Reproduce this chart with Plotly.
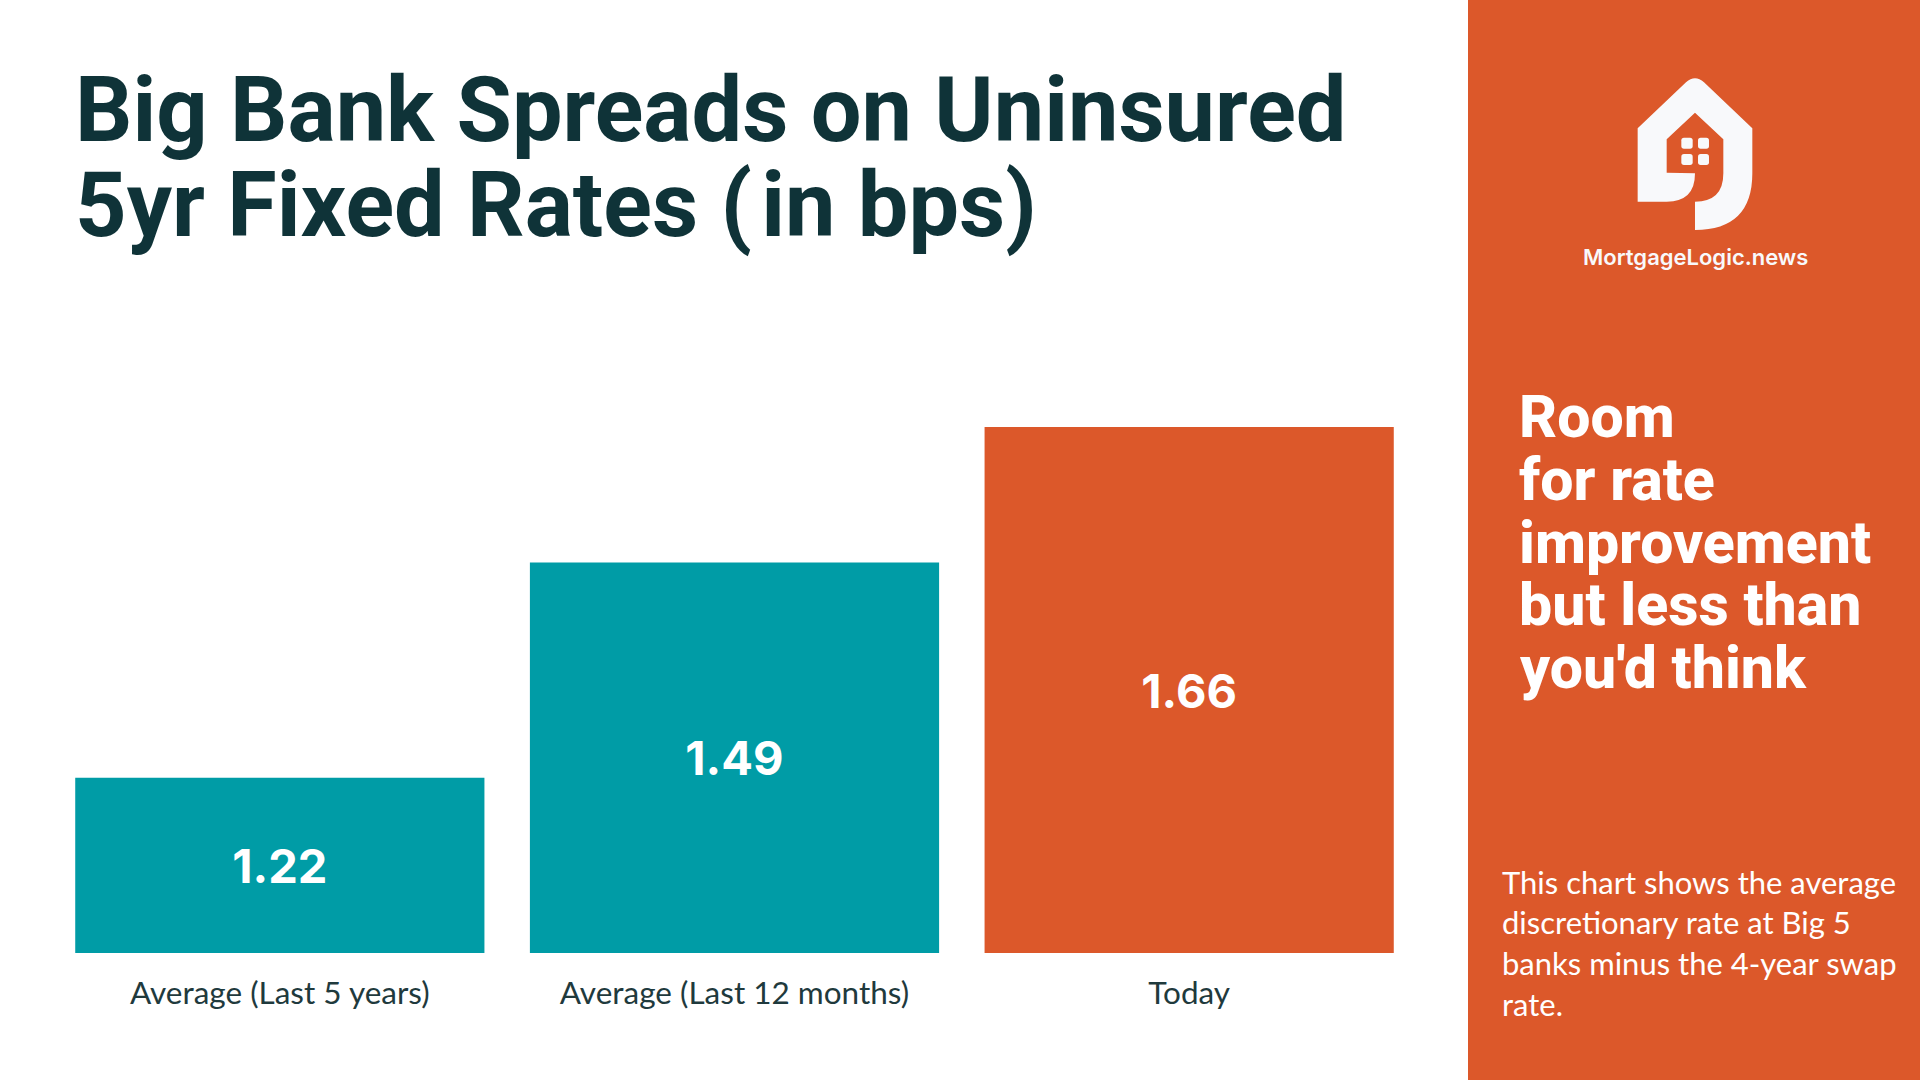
import plotly.graph_objects as go

W = 1920
H = 1080

TEAL = "#009CA6"
ORANGE = "#DC582A"
DARK = "#0F3338"
LABEL = "#1F3A3D"
WHITE = "#FFFFFF"
LOGO = "#F8F9FB"

categories = ["Average (Last 5 years)", "Average (Last 12 months)", "Today"]
spreads = [1.22, 1.49, 1.66]
bar_colors = [TEAL, TEAL, ORANGE]
axis_floor = 1.0  # the bars start at 1.0 in the picture, not at zero

title_lines = ["Big Bank Spreads on Uninsured", "5yr Fixed Rates (\u200ain bps)"]
side_lines = ["Room", "for rate", "improvement", "but less than", "you'd think"]
note_lines = [
    "This chart shows the average",
    "discretionary rate at Big 5",
    "banks minus the 4-year swap",
    "rate.",
]
brand = "MortgageLogic.news"


def px(x):
    return x / W


def py(y):
    return 1 - y / H


def logo_xy(x, y):
    return f"{px(1560 + x / 3):.5f},{py(50 + y / 3):.5f}"


def logo_path(parts):
    out = []
    for cmd, *pts in parts:
        out.append(cmd + " " + " ".join(logo_xy(*p) for p in pts))
    return " ".join(out) + " Z"


def window_path(x0, y0, x1, y1, r=8):
    return logo_path([
        ("M", (x0 + r, y0)),
        ("L", (x1 - r, y0)),
        ("Q", (x1, y0), (x1, y0 + r)),
        ("L", (x1, y1 - r)),
        ("Q", (x1, y1), (x1 - r, y1)),
        ("L", (x0 + r, y1)),
        ("Q", (x0, y1), (x0, y1 - r)),
        ("L", (x0, y0 + r)),
        ("Q", (x0, y0), (x0 + r, y0)),
    ])


house = logo_path([
    ("M", (233, 235)),
    ("L", (378, 97)),
    ("Q", (405, 72), (432, 97)),
    ("L", (577, 235)),
    ("L", (577, 370)),
    ("Q", (577, 540), (405, 540)),
    ("L", (405, 455)),
    ("Q", (490, 455), (490, 370)),
    ("L", (490, 268)),
    ("L", (405, 188)),
    ("L", (320, 268)),
    ("L", (320, 368)),
    ("L", (405, 370)),
    ("Q", (405, 455), (320, 455)),
    ("L", (233, 455)),
])
windows = [
    window_path(364, 263, 398, 296),
    window_path(414, 263, 447, 296),
    window_path(364, 312, 398, 345),
    window_path(414, 312, 447, 345),
]

fig = go.Figure(
    go.Bar(
        x=categories,
        y=[v - axis_floor for v in spreads],
        base=axis_floor,
        marker=dict(color=bar_colors, line=dict(width=0)),
        text=[f"{v:.2f}" for v in spreads],
        textposition="inside",
        insidetextanchor="middle",
        textangle=0,
        textfont=dict(family="Inter", size=47, color=WHITE, weight=700),
        hoverinfo="skip",
    )
)

shapes = [
    dict(type="rect", xref="paper", yref="paper", x0=px(1468), x1=1, y0=0, y1=1,
         fillcolor=ORANGE, line=dict(width=0), layer="below"),
    dict(type="path", xref="paper", yref="paper", path=house,
         fillcolor=LOGO, line=dict(width=0)),
]
for w in windows:
    shapes.append(dict(type="path", xref="paper", yref="paper", path=w,
                       fillcolor=LOGO, line=dict(width=0)))

annotations = []


def add_text(text, x, y, size, color, family, weight=400, anchor="left"):
    annotations.append(dict(
        text=text, x=px(x), y=py(y), xref="paper", yref="paper",
        xanchor=anchor, yanchor="middle", showarrow=False,
        font=dict(family=family, size=size, color=color, weight=weight),
    ))


for line, y in zip(title_lines, [110, 205]):
    add_text(line, 73, y, 90, DARK, "Roboto", 700)
for line, y in zip(side_lines, [416, 479, 542, 604, 667]):
    add_text(line, 1517, y, 59, WHITE, "Roboto", 800)
for line, y in zip(note_lines, [882, 922, 963, 1004]):
    add_text(line, 1500, y, 31, WHITE, "Lato")
add_text(brand, 1695, 257, 22, LOGO, "Inter", 600, "center")

fig.update_layout(
    width=W,
    height=H,
    margin=dict(l=0, r=0, t=0, b=0, pad=0),
    paper_bgcolor=WHITE,
    plot_bgcolor=WHITE,
    showlegend=False,
    hovermode=False,
    bargap=0.1,
    shapes=shapes,
    annotations=annotations,
    xaxis=dict(
        domain=[px(52.5), px(1416.5)],
        tickfont=dict(family="Lato", size=31.5, color=LABEL),
        ticks="",
        ticklabelstandoff=18,
        showline=False,
        showgrid=False,
        zeroline=False,
    ),
    yaxis=dict(
        domain=[py(953), py(427)],
        range=[axis_floor, max(spreads)],
        showticklabels=False,
        ticks="",
        showline=False,
        showgrid=False,
        zeroline=False,
    ),
)

# the browser's default body margin would push the page off by 8px
fig.write_html(
    "out.html",
    config={"displayModeBar": False},
    post_script="document.body.style.margin='0';",
)
